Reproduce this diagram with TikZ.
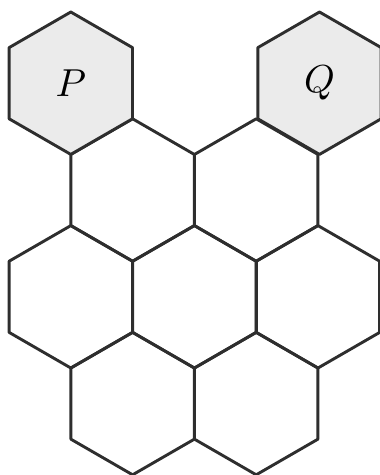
\documentclass[tikz,border=0pt]{standalone}
\usepackage{graphicx}
\usetikzlibrary{shapes.geometric}
\definecolor{hexline}{HTML}{2E2E2E}
\definecolor{hexfill}{HTML}{EBEBEB}
\newcommand{\biglabel}[1]{\scalebox{3.9}{$#1$}}
\begin{document}
\begin{tikzpicture}[x=1pt,y=-1pt,
  hexcell/.style={regular polygon, regular polygon sides=6, shape border rotate=30,
    minimum size=142.4pt, inner sep=0pt, outer sep=0pt, draw=hexline, line width=2.9pt, line join=round},
  marked/.style={hexcell, fill=hexfill}]
\useasboundingbox (0,0) rectangle (380,475);
\node[hexcell] (b1) at (132.6,190) {};
\node[hexcell] (b2) at (256.2,190) {};
\node[hexcell] (c1) at (70.8,296.8) {};
\node[hexcell] (c2) at (194.4,296.8) {};
\node[hexcell] (c3) at (318,296.8) {};
\node[hexcell] (d1) at (132.6,403.6) {};
\node[hexcell] (d2) at (256.2,403.6) {};
\node[marked] (p) at (70.8,83.2) {\biglabel{P}};
\node[marked] (q) at (319.5,83.2) {\biglabel{Q}};
\end{tikzpicture}
\end{document}
